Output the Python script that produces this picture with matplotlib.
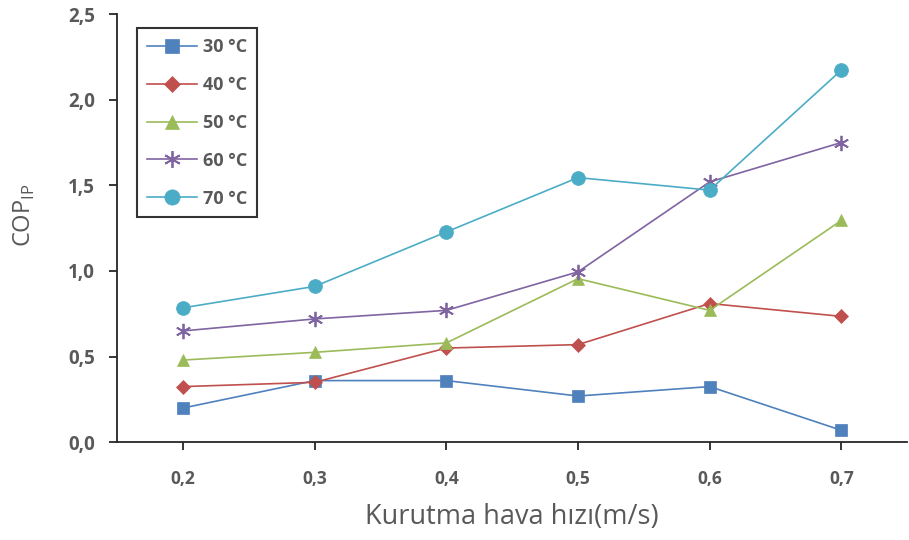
import matplotlib
matplotlib.use("Agg")
import matplotlib.pyplot as plt
from matplotlib.ticker import FuncFormatter

# Drying air velocity (m/s) and COP_IP for each drying temperature
velocities = [0.2, 0.3, 0.4, 0.5, 0.6, 0.7]
cop_30 = [0.20, 0.36, 0.36, 0.27, 0.325, 0.07]
cop_40 = [0.325, 0.35, 0.55, 0.57, 0.81, 0.735]
cop_50 = [0.48, 0.525, 0.58, 0.955, 0.77, 1.295]
cop_60 = [0.65, 0.72, 0.77, 0.995, 1.52, 1.75]
cop_70 = [0.785, 0.91, 1.228, 1.545, 1.472, 2.173]
y_ticks = [0.0, 0.5, 1.0, 1.5, 2.0, 2.5]

series = [
    ("30 °C", cop_30, "#4F81BD", "s", 9),
    ("40 °C", cop_40, "#C0504D", "D", 7),
    ("50 °C", cop_50, "#9BBB59", "^", 9),
    ("60 °C", cop_60, "#8064A2", (6, 2, 0), 11),
    ("70 °C", cop_70, "#4BACC6", "o", 10),
]

plt.rcParams["font.family"] = ["Open Sans", "DejaVu Sans"]
text_gray = "#595959"

fig = plt.figure(figsize=(9.09, 5.40), dpi=100)
ax = fig.add_axes([0.129, 0.181, 0.869, 0.793])

for label, vals, color, marker, ms in series:
    ax.plot(velocities, vals, color=color, linewidth=1.2, marker=marker,
            markersize=ms, markeredgecolor=color, markerfacecolor=color,
            markeredgewidth=1.3 if marker == (6, 2, 0) else 0.5, label=label)

ax.set_xlim(0.15, 0.75)
ax.set_ylim(0, 2.5)
ax.set_xticks(velocities)
ax.set_yticks(y_ticks)
comma = FuncFormatter(lambda v, _: f"{v:.1f}".replace(".", ","))
ax.xaxis.set_major_formatter(comma)
ax.yaxis.set_major_formatter(comma)

for side in ("top", "right"):
    ax.spines[side].set_visible(False)
for side in ("left", "bottom"):
    ax.spines[side].set_color("#262626")
    ax.spines[side].set_linewidth(1.3)

ax.tick_params(axis="both", direction="out", length=6, width=1.3, color="#262626",
               labelcolor=text_gray)
ax.tick_params(axis="x", pad=14, labelsize=12.5)
ax.tick_params(axis="y", pad=10, labelsize=13.5)
for lbl in ax.get_xticklabels() + ax.get_yticklabels():
    lbl.set_fontweight("bold")

ax.set_xlabel("Kurutma hava hızı(m/s)", fontsize=19.5, color=text_gray, labelpad=11)
ax.set_ylabel(r"COP$_{\mathregular{IP}}$", fontsize=17, color=text_gray)
ax.yaxis.set_label_coords(-0.102, 0.53)

leg = ax.legend(loc="upper left", bbox_to_anchor=(0.025, 0.967), borderaxespad=0,
                frameon=True, fancybox=False, edgecolor="black", handlelength=2.8,
                handletextpad=0.3, labelspacing=1.1, borderpad=0.55,
                markerscale=1.1, prop={"size": 13, "weight": "bold"})
leg.get_frame().set_linewidth(1.5)
for t in leg.get_texts():
    t.set_color(text_gray)

fig.savefig("out.png", dpi=100)
